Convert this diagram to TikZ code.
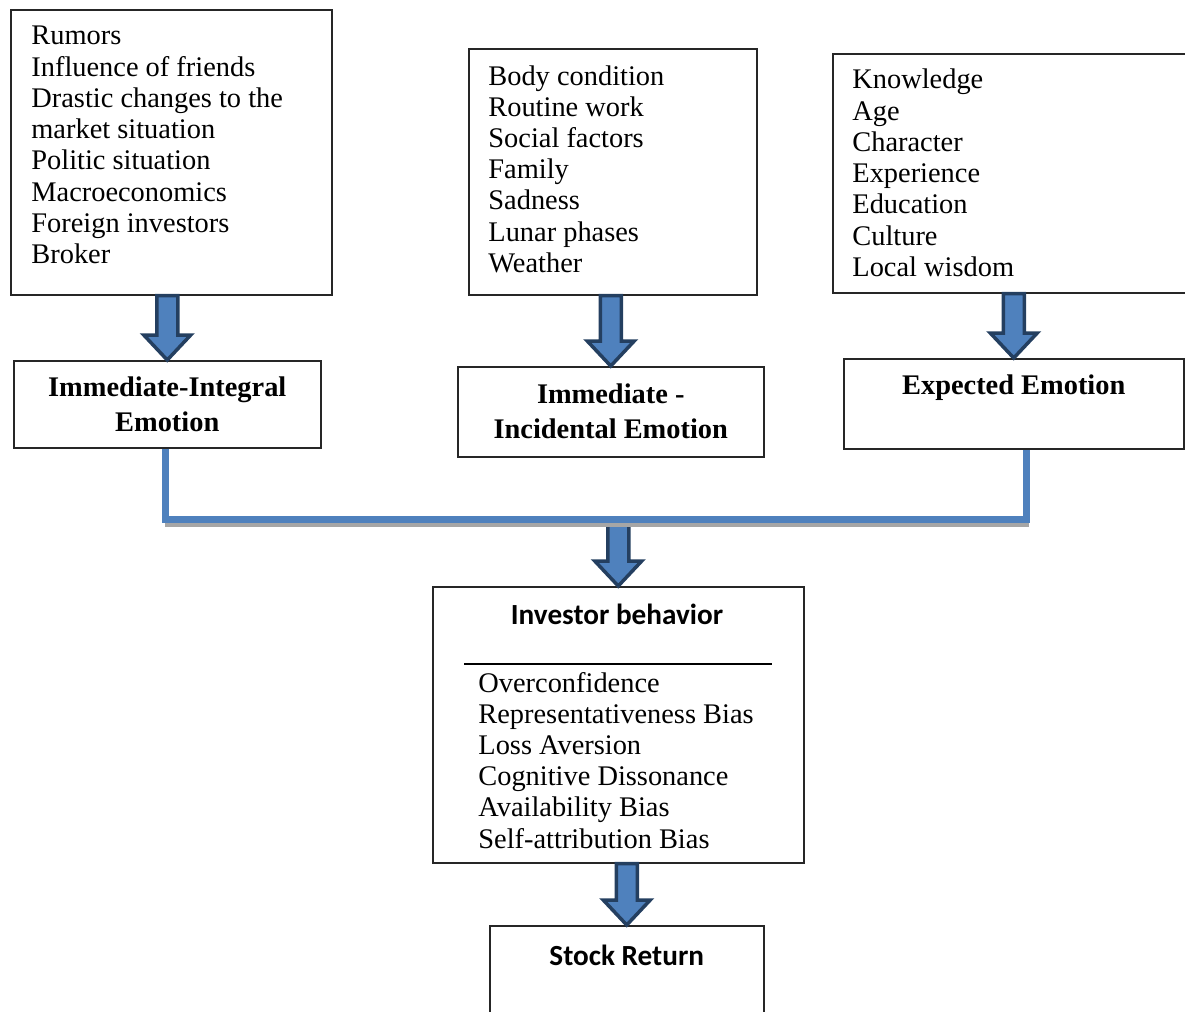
\documentclass[tikz,border=0pt]{standalone}
\usepackage{fontspec}
\setmainfont{Liberation Serif}
\newfontfamily\headfont{Carlito}
\usetikzlibrary{calc}

\def\px{0.5pt}
\def\lineStep{31.2}
\def\bodyFont{\fontsize{14.2pt}{15.6pt}\selectfont}
\def\emoFont{\fontsize{14.2pt}{17.5pt}\selectfont\bfseries}
\def\headFont{\headfont\fontsize{14.6pt}{17.5pt}\selectfont\bfseries}

\definecolor{lineblue}{HTML}{4F81BD}
\definecolor{arrowedge}{HTML}{243F60}

\tikzset{
  box/.style={draw=black!85, line width=0.75pt, anchor=north west, inner sep=0pt},
  item/.style={anchor=base west, inner sep=0pt, font=\bodyFont},
  emo/.style={box, align=center, font=\emoFont},
  fatarrow/.style={draw=arrowedge, fill=lineblue, line width=1.75pt, line join=miter},
  joinline/.style={draw=lineblue, line width=3.5pt, line join=miter},
  joinshadow/.style={draw=black!35, line width=2.5pt},
}

% big block arrow, straight down onto the middle of #2
\newcommand{\fatarrow}[2]{%
  \path[fatarrow] let \p1=(#1), \p2=(#2) in
    (\x2-5.25pt,\y1) -- (\x2-5.25pt,\y2+12.5pt) -- (\x2-11.75pt,\y2+12.5pt) -- (\x2,\y2)
    -- (\x2+11.75pt,\y2+12.5pt) -- (\x2+5.25pt,\y2+12.5pt) -- (\x2+5.25pt,\y1) -- cycle;
}

\begin{document}
\begin{tikzpicture}[x=\px,y=-\px]
  \useasboundingbox (0,0) rectangle (1185,1012);
  \clip (0,0) rectangle (1185,1012);

  % factor boxes
  \node[box, minimum width={321*\px}, minimum height={285*\px}] (market) at (10,9) {};
  \foreach \i/\t in {0/Rumors,1/Influence of friends,2/Drastic changes to the,3/market situation,4/Politic situation,5/Macroeconomics,6/Foreign investors,7/Broker} {
    \node[item] (market\i) at (31,{45+\lineStep*\i}) {\t};
  }

  \node[box, minimum width={288*\px}, minimum height={246*\px}] (mood) at (468,48) {};
  \foreach \i/\t in {0/Body condition,1/Routine work,2/Social factors,3/Family,4/Sadness,5/Lunar phases,6/Weather} {
    \node[item] (mood\i) at (488,{85+\lineStep*\i}) {\t};
  }

  \node[box, minimum width={380*\px}, minimum height={239*\px}] (person) at (832,53) {};
  \foreach \i/\t in {0/Knowledge,1/Age,2/Character,3/Experience,4/Education,5/Culture,6/Local wisdom} {
    \node[item] (person\i) at (852,{89+\lineStep*\i}) {\t};
  }

  % emotion boxes
  \node[emo, minimum width={307*\px}, minimum height={87*\px}] (integral) at (13,360) {Immediate-Integral\\Emotion};
  \node[emo, minimum width={306*\px}, minimum height={90*\px}] (incidental) at (457,366) {Immediate -\\Incidental Emotion};
  \node[emo, minimum width={340*\px}, minimum height={90*\px}] (expected) at (843,358) {Expected Emotion\\[-4pt]\strut};

  \fatarrow{market.south}{integral.north}
  \fatarrow{mood.south}{incidental.north}
  \fatarrow{person.south}{expected.north}

  % investor behavior
  \node[box, minimum width={371*\px}, minimum height={276*\px}] (investor) at (432,586) {};
  \node[anchor=base, inner sep=0pt, font=\headFont] (invtitle) at (617,624) {Investor behavior};
  \draw[line width=1pt] (464,664) coordinate (ruleL) -- (772,664) coordinate (ruleR);
  \foreach \i/\t in {0/Overconfidence,1/Representativeness Bias,2/Loss Aversion,3/Cognitive Dissonance,4/Availability Bias,5/Self-attribution Bias} {
    \node[item] (bias\i) at (478,{692+\lineStep*\i}) {\t};
  }

  \node[box, align=center, font=\headFont, minimum width={274*\px}, minimum height={99*\px}] (stock) at (489,925) {Stock Return\\[-3pt]\strut};

  % joining line
  \coordinate (joinL) at (165,519);
  \coordinate (joinR) at (1026,519);
  \coordinate (join) at (617,519);
  \fatarrow{join}{investor.north}
  \draw[joinshadow] ([shift={(0,5)}]joinL) -- ([shift={(3,5)}]joinR);
  \draw[joinline] (joinL |- integral.south) -- (joinL) -- (joinR) -- (joinR |- expected.south);

  \fatarrow{investor.south}{stock.north}
\end{tikzpicture}
\end{document}
